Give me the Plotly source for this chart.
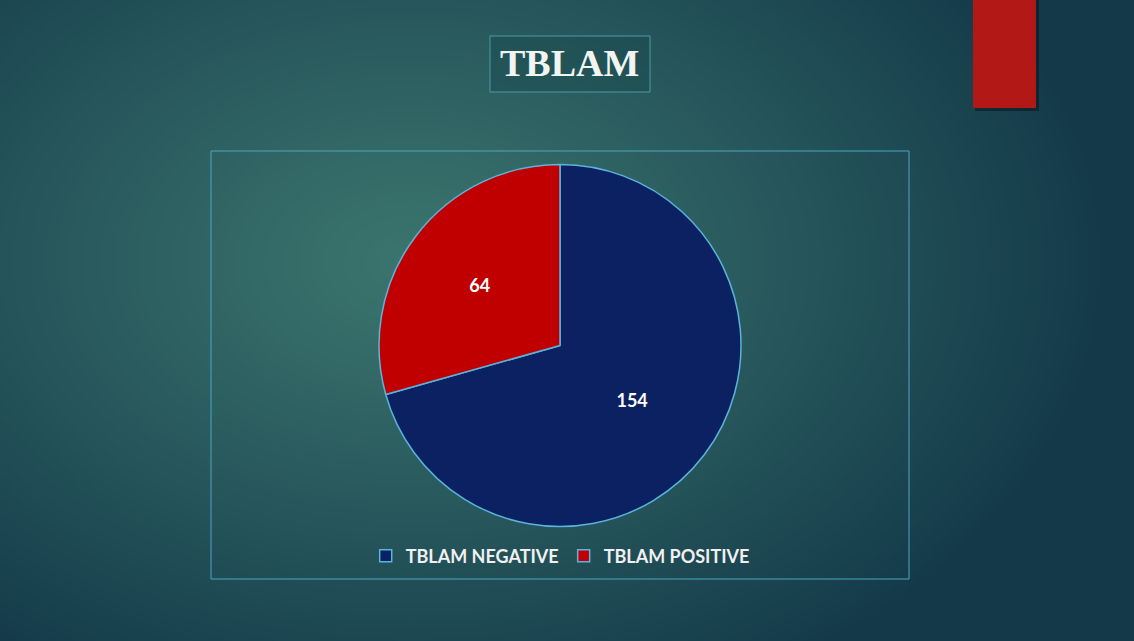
import base64, struct, zlib
import numpy as np
import plotly.graph_objects as go

# ---- data ----
labels = ["TBLAM NEGATIVE", "TBLAM POSITIVE"]
values = [154, 64]
colors = ["#0c2161", "#c00000"]
title_text = "TBLAM"

W, H = 1134, 641

# ---- background gradient as PNG data URI ----
def make_png(arr):
    h, w, _ = arr.shape
    raw = b"".join(b"\x00" + arr[i].tobytes() for i in range(h))
    def chunk(t, d):
        c = struct.pack(">I", len(d)) + t + d
        return c + struct.pack(">I", zlib.crc32(t + d) & 0xffffffff)
    png = b"\x89PNG\r\n\x1a\n"
    png += chunk(b"IHDR", struct.pack(">IIBBBBB", w, h, 8, 2, 0, 0, 0))
    png += chunk(b"IDAT", zlib.compress(raw, 9))
    png += chunk(b"IEND", b"")
    return "data:image/png;base64," + base64.b64encode(png).decode()

sw, sh = W // 2, H // 2
yy, xx = np.mgrid[0:sh, 0:sw].astype(float)
xx *= 2; yy *= 2
cx, cy = 410, 260
d = np.sqrt(((xx - cx) / 700) ** 2 + ((yy - cy) / 480) ** 2)
t = np.clip(d, 0, 1) ** 1.1
inner = np.array([0x3b, 0x75, 0x6e], float)
outer = np.array([0x14, 0x3a, 0x4a], float)
img = inner[None, None, :] * (1 - t[..., None]) + outer[None, None, :] * t[..., None]
img = np.clip(img, 0, 255).astype(np.uint8)
bg_uri = make_png(img)

fig = go.Figure()
fig.add_trace(go.Pie(
    labels=labels, values=values, sort=False, direction="clockwise", rotation=0,
    marker=dict(colors=colors, line=dict(color="#5ab4dc", width=1.5)),
    textinfo="value", insidetextorientation="horizontal",
    textfont=dict(family="Lato", size=18, color="white", weight="bold"),
    hoverinfo="label+value",
    domain=dict(x=[379 / W, 741 / W], y=[1 - 527 / H, 1 - 164 / H]),
))

shapes = [
    # chart area box
    dict(type="rect", xref="paper", yref="paper",
         x0=211 / W, x1=909 / W, y0=1 - 579 / H, y1=1 - 151 / H,
         line=dict(color="#4aa6c4", width=1), fillcolor="rgba(0,0,0,0)", layer="below"),
    # title box
    dict(type="rect", xref="paper", yref="paper",
         x0=490 / W, x1=650 / W, y0=1 - 92 / H, y1=1 - 36 / H,
         line=dict(color="#4d9aa8", width=1), fillcolor="rgba(20,70,75,0.35)", layer="below"),
    # red bar shadow
    dict(type="rect", xref="paper", yref="paper",
         x0=975 / W, x1=1039 / W, y0=1 - 111 / H, y1=1.0,
         line=dict(width=0), fillcolor="rgba(0,0,0,0.35)", layer="below"),
    # red bar
    dict(type="rect", xref="paper", yref="paper",
         x0=973 / W, x1=1036 / W, y0=1 - 108 / H, y1=1.0,
         line=dict(width=0), fillcolor="#b21816", layer="below"),
]

fig.update_layout(
    width=W, height=H,
    margin=dict(l=0, r=0, t=0, b=0),
    paper_bgcolor="#1a4552",
    plot_bgcolor="rgba(0,0,0,0)",
    images=[dict(source=bg_uri, xref="paper", yref="paper", x=0, y=1,
                 sizex=1, sizey=1, sizing="stretch", layer="below",
                 xanchor="left", yanchor="top")],
    shapes=shapes,
    annotations=[dict(text=title_text, xref="paper", yref="paper",
                      x=569 / W, y=1 - 63 / H, showarrow=False,
                      xanchor="center", yanchor="middle",
                      font=dict(family="Liberation Serif", size=38, color="#f2f4f2",
                                weight="bold"))],
    showlegend=True,
    legend=dict(orientation="h", x=0.494, xanchor="center", y=1 - 556 / H, yanchor="middle",
                font=dict(family="Lato", size=18, color="#f0f0f0", weight="bold"),
                bgcolor="rgba(0,0,0,0)", itemwidth=30, tracegroupgap=0),
)

fig.write_html("out.html", config={"displayModeBar": False},
               post_script="document.body.style.margin='0';document.body.style.padding='0';")
